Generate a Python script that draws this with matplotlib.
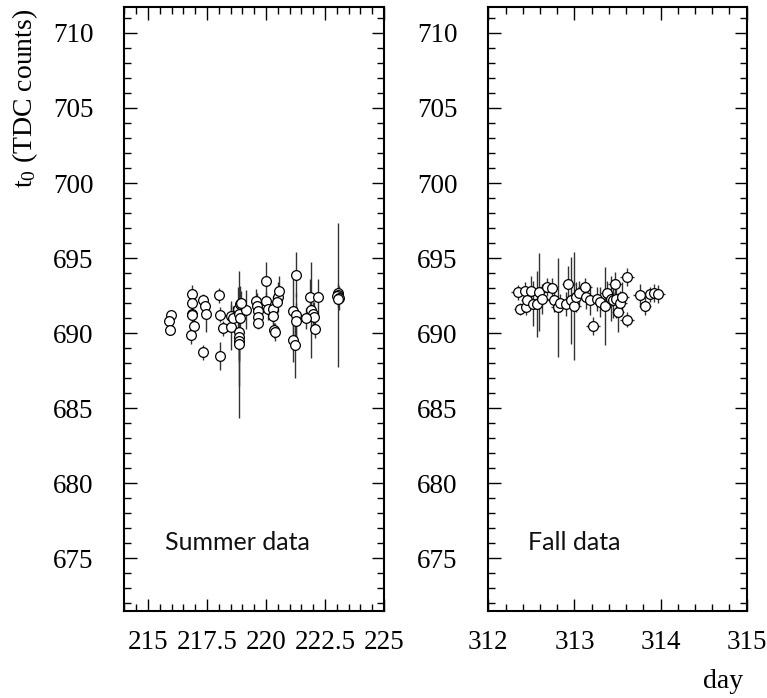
import matplotlib
matplotlib.use("Agg")
import matplotlib.pyplot as plt
from matplotlib.ticker import MultipleLocator, FixedLocator, FixedFormatter

serif = "Liberation Serif"
plt.rcParams["font.family"] = [serif, "DejaVu Serif"]
plt.rcParams["mathtext.fontset"] = "custom"
plt.rcParams["mathtext.rm"] = serif
plt.rcParams["mathtext.it"] = serif + ":italic"

# ---------------- data ----------------
summer_day = [215.96, 215.89, 215.93, 216.85, 216.87, 216.85, 216.88, 216.96, 216.82,
              217.34, 217.41, 217.44, 217.34, 218.00, 218.04, 218.16, 218.07, 218.54,
              218.52, 218.60, 218.82, 218.89, 218.86, 218.92, 218.86, 218.86, 218.86,
              218.86, 219.17, 218.95, 219.59, 219.64, 219.66, 219.66, 219.66, 220.02,
              220.00, 220.10, 220.30, 220.30, 220.35, 220.38, 220.50, 220.55, 220.45,
              221.28, 221.14, 221.28, 221.28, 221.14, 221.24, 221.85, 222.20, 221.92,
              221.98, 222.05, 221.70, 222.09, 223.05, 223.05, 223.02, 223.08, 223.04]
summer_t0 = [691.24, 690.84, 690.22, 692.60, 692.00, 691.30, 691.20, 690.50, 689.85,
             692.20, 691.80, 691.28, 688.74, 692.54, 691.24, 690.33, 688.48, 691.15,
             690.40, 691.00, 691.60, 691.94, 691.30, 691.00, 690.07, 689.74, 689.50,
             689.25, 691.56, 692.00, 692.16, 691.80, 691.45, 691.06, 690.66, 693.49,
             692.16, 691.60, 691.60, 691.15, 690.20, 690.06, 692.40, 692.83, 692.05,
             693.90, 691.50, 691.20, 690.80, 689.56, 689.20, 692.38, 692.38, 691.55,
             691.30, 691.10, 691.00, 690.30, 692.70, 692.55, 692.45, 692.35, 692.25]
summer_err = [0.30, 0.25, 0.35, 0.60, 0.50, 0.40, 0.50, 0.90, 0.60,
              0.40, 0.60, 1.20, 0.50, 0.50, 0.50, 0.50, 0.90, 1.00,
              1.50, 0.80, 1.50, 1.20, 1.00, 0.80, 2.00, 1.50, 3.00,
              4.90, 1.30, 0.80, 0.80, 0.90, 0.70, 0.50, 0.40, 1.25,
              0.60, 0.70, 0.90, 0.80, 0.50, 0.60, 1.00, 1.00, 0.80,
              1.50, 2.50, 1.50, 1.20, 1.50, 2.20, 1.20, 1.20, 3.20,
              0.80, 1.00, 0.70, 0.60, 0.60, 4.80, 0.50, 0.80, 0.50]

fall_day = [312.34, 312.37, 312.43, 312.44, 312.45, 312.50, 312.52, 312.56, 312.59,
            312.62, 312.68, 312.74, 312.76, 312.81, 312.83, 312.90, 312.93, 312.96,
            313.00, 313.02, 313.05, 313.12, 313.14, 313.18, 313.22, 313.26, 313.30,
            313.36, 313.38, 313.42, 313.45, 313.48, 313.47, 313.51, 313.53, 313.55,
            313.61, 313.61, 313.76, 313.82, 313.88, 313.92, 313.97]
fall_t0 = [692.72, 691.60, 692.78, 691.72, 692.20, 692.80, 691.95, 691.95, 692.72,
           692.30, 693.10, 693.00, 692.20, 691.72, 692.00, 691.95, 693.26, 692.20,
           691.80, 692.40, 692.70, 693.05, 692.40, 692.20, 690.50, 692.30, 692.10,
           691.80, 692.70, 692.30, 692.20, 692.30, 693.30, 691.40, 692.00, 692.40,
           693.75, 690.90, 692.55, 691.80, 692.60, 692.70, 692.60]
fall_err = [0.50, 0.40, 0.60, 0.50, 0.70, 1.00, 1.50, 2.20, 2.60,
            1.00, 0.60, 0.70, 0.80, 3.30, 0.60, 0.80, 1.20, 2.90,
            3.60, 1.00, 0.80, 0.60, 0.80, 1.00, 0.60, 0.80, 1.00,
            2.60, 0.80, 1.50, 1.20, 1.30, 0.80, 1.30, 0.80, 1.00,
            0.60, 0.50, 0.70, 0.60, 0.50, 0.60, 0.60]
fall_derr = [0.08, 0.07, 0.08, 0.08, 0.07, 0.08, 0.08, 0.07, 0.08,
             0.08, 0.08, 0.07, 0.08, 0.08, 0.08, 0.07, 0.08, 0.08,
             0.08, 0.07, 0.08, 0.08, 0.08, 0.07, 0.08, 0.08, 0.07,
             0.08, 0.08, 0.07, 0.08, 0.08, 0.08, 0.07, 0.08, 0.08,
             0.08, 0.08, 0.08, 0.07, 0.08, 0.08, 0.08]

summer_ticks = [215, 217.5, 220, 222.5, 225]
summer_ticklabels = ["215", "217.5", "220", "222.5", "225"]
fall_ticks = [312, 313, 314, 315]
fall_ticklabels = ["312", "313", "314", "315"]
y_ticks = [675, 680, 685, 690, 695, 700, 705, 710]
y_ticklabels = ["675", "680", "685", "690", "695", "700", "705", "710"]

# ---------------- figure ----------------
W, H = 767, 698
fig = plt.figure(figsize=(W / 100, H / 100), dpi=100)

left_box = [124.3 / W, 1 - 611 / H, (384 - 124.3) / W, (611 - 7.3) / H]
right_box = [488.3 / W, 1 - 611 / H, (746.7 - 488.3) / W, (611 - 7.3) / H]
ax1 = fig.add_axes(left_box)
ax2 = fig.add_axes(right_box)

def style(ax, xlim, xt, xtl, xminor):
    ax.set_xlim(*xlim)
    ax.set_ylim(671.5, 711.7)
    ax.xaxis.set_major_locator(FixedLocator(xt))
    ax.xaxis.set_major_formatter(FixedFormatter(xtl))
    ax.xaxis.set_minor_locator(MultipleLocator(xminor))
    ax.yaxis.set_major_locator(FixedLocator(y_ticks))
    ax.yaxis.set_major_formatter(FixedFormatter(y_ticklabels))
    ax.yaxis.set_minor_locator(MultipleLocator(1))
    ax.tick_params(which="both", direction="in", top=True, right=True, width=1.0)
    ax.tick_params(which="major", length=9, labelsize=19.5)
    ax.tick_params(which="minor", length=4.7)
    ax.tick_params(axis="y", which="major", pad=22)
    ax.tick_params(axis="x", which="major", pad=14)
    for s in ax.spines.values():
        s.set_linewidth(1.5)

ekw = dict(fmt="o", ms=7, mfc="white", mec="black", mew=0.9,
           ecolor="#333333", elinewidth=1.0, capsize=0)

ax1.errorbar(summer_day, summer_t0, yerr=summer_err, **ekw)
ax2.errorbar(fall_day, fall_t0, yerr=fall_err, xerr=fall_derr, **ekw)

style(ax1, (214, 225), summer_ticks, summer_ticklabels, 0.5)
style(ax2, (312, 315), fall_ticks, fall_ticklabels, 0.2)

label_font = dict(family=["Lato", "DejaVu Sans"], fontweight="normal", fontsize=18,
                  color="#111111")
ax1.text(0.157, 0.101, "Summer data", transform=ax1.transAxes,
         ha="left", va="baseline", **label_font)
ax2.text(0.154, 0.101, "Fall data", transform=ax2.transAxes,
         ha="left", va="baseline", **label_font)

fig.text(25 / W, 1 - 9 / H, r"t$_\mathrm{0}$ (TDC counts)", rotation=90, ha="center",
         va="top", fontsize=20)
fig.text(743 / W, 1 - 688 / H, "day", ha="right", va="baseline", fontsize=20)

fig.savefig("out.png", dpi=100)
